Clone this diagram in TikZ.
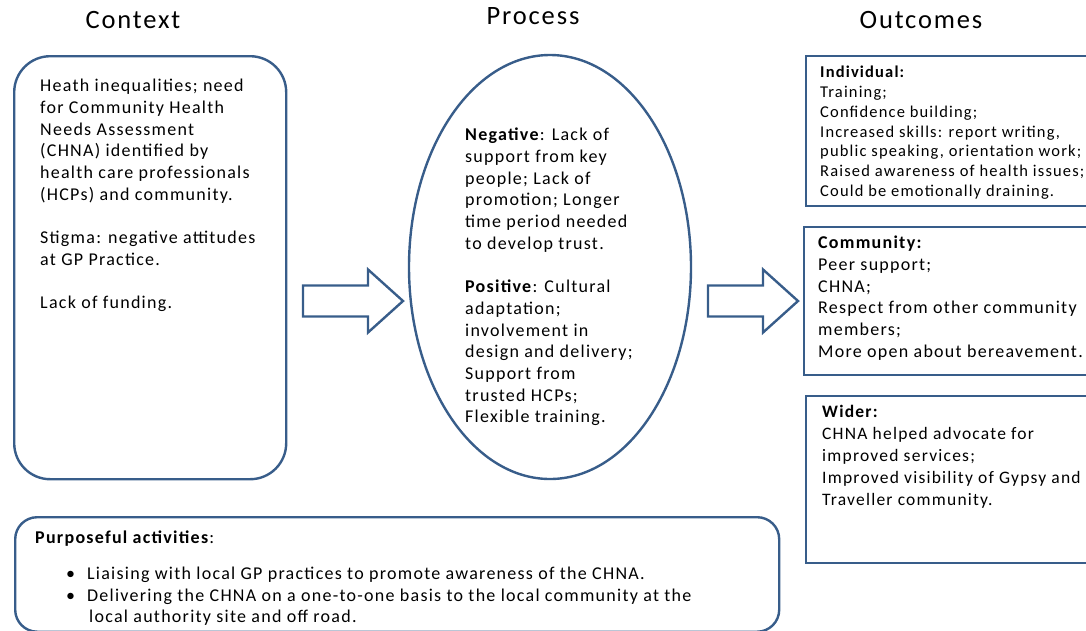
\documentclass[tikz,border=0pt]{standalone}
\usepackage{fontspec}
\setmainfont{Carlito}[LetterSpace=7]
\usetikzlibrary{shapes.geometric,positioning}
\definecolor{frameblue}{RGB}{56,93,138}

\begin{document}
\begin{tikzpicture}[x=1pt,y=-1pt,
  frame/.style={draw=frameblue,line width=2.4pt},
  heading/.style={font=\fontsize{26.5}{30}\selectfont},
  body/.style={align=left,inner sep=0pt,anchor=north west,font=\fontsize{18}{21.7}\selectfont},
  small/.style={body,font=\fontsize{16.5}{19.8}\selectfont},
  blockarrow/.style={draw=frameblue,line width=2.4pt,line join=miter}]

\clip (0,0) rectangle (1086,630);

% headings
\node[heading] (contexthead) at (133,20) {Context};
\node[heading] (processhead) at (533,16) {Process};
\node[heading] (outcomeshead) at (921,20) {Outcomes};

% frames
\node[frame,rounded corners=36pt,minimum width=272pt,minimum height=423pt,anchor=north west] (context) at (13,55) {};
\node[frame,ellipse,minimum width=282pt,minimum height=424pt] (process) at (550,267) {};
\node[frame,minimum width=300pt,minimum height=150pt,anchor=north west] (individual) at (805,55) {};
\node[frame,minimum width=300pt,minimum height=148pt,anchor=north west] (community) at (803,226) {};
\node[frame,minimum width=300pt,minimum height=167pt,anchor=north west] (wider) at (805,395) {};
\node[frame,rounded corners=22pt,minimum width=764pt,minimum height=114.5pt,anchor=north west] (activities) at (14,516) {};

% block arrows
\foreach \tail/\shaft in {303/65,708/55}
  \draw[blockarrow] (\tail,301) ++(0,-15.5) -- ++(\shaft,0) -- ++(0,-16) -- ++(35,31.5)
    -- ++(-35,31.5) -- ++(0,-16) -- ++(-\shaft,0) -- cycle;

% texts
\node[body] (contexttext) at (40,79) {Heath inequalities; need\\
  for Community Health\\
  Needs Assessment\\
  (CHNA) identified by\\
  health care professionals\\
  (HCPs) and community.\\[21.7pt]
  Stigma: negative attitudes\\
  at GP Practice.\\[21.7pt]
  Lack of funding.};

\node[body] (processtext) at (465,128) {\textbf{Negative}: Lack of\\
  support from key\\
  people; Lack of\\
  promotion; Longer\\
  time period needed\\
  to develop trust.\\[21.7pt]
  \textbf{Positive}: Cultural\\
  adaptation;\\
  involvement in\\
  design and delivery;\\
  Support from\\
  trusted HCPs;\\
  Flexible training.};

\node[small] (individualtext) at (820,66) {\textbf{Individual:}\\
  Training;\\
  Confidence building;\\
  Increased skills: report writing,\\
  public speaking, orientation work;\\
  Raised awareness of health issues;\\
  Could be emotionally draining.};

\node[body] (communitytext) at (818,236) {\textbf{Community:}\\
  Peer support;\\
  CHNA;\\
  Respect from other community\\
  members;\\
  More open about bereavement.};

\node[body,font=\fontsize{17.5}{21.9}\selectfont] (widertext) at (822,405) {\textbf{Wider:}\\
  CHNA helped advocate for\\
  improved services;\\
  Improved visibility of Gypsy and\\
  Traveller community.};

\node[body] (activitiestext) at (35,531) {\textbf{Purposeful activities}:\\[14pt]
  \hspace*{31pt}\textbullet\hspace{12pt}Liaising with local GP practices to promote awareness of the CHNA.\\
  \hspace*{31pt}\textbullet\hspace{12pt}Delivering the CHNA on a one-to-one basis to the local community at the\\
  \hspace*{54pt}local authority site and off road.};

\end{tikzpicture}
\end{document}
